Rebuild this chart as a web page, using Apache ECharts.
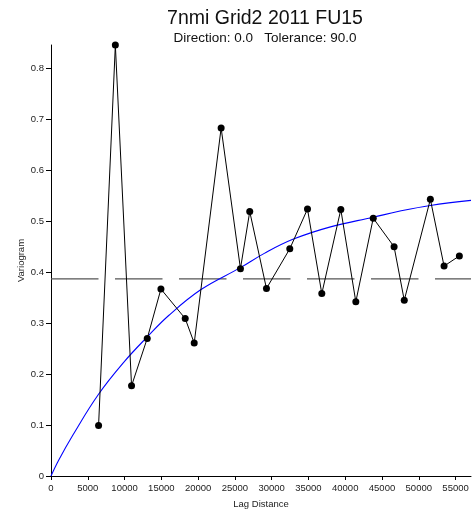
<!DOCTYPE html>
<html>
<head>
<meta charset="utf-8">
<script src="https://cdn.jsdelivr.net/npm/echarts@6/dist/echarts.min.js"></script>
<style>
html,body{margin:0;padding:0;background:#fff;}
#chart{width:473px;height:515px;}
</style>
</head>
<body>
<div id="chart"></div>
<script>
// Experimental variogram points (lag distance, variogram)
var lagX = [6467, 8748, 10951, 13084, 14946, 18247, 19470, 23129, 25755, 27020, 29293,
            32463, 34871, 36816, 39401, 41442, 43810, 46644, 48027, 51576, 53438, 55516];
var gammaY = [0.099, 0.846, 0.177, 0.270, 0.367, 0.309, 0.261, 0.683, 0.407, 0.519, 0.368,
              0.446, 0.524, 0.358, 0.523, 0.342, 0.506, 0.450, 0.345, 0.543, 0.412, 0.432];
// Model curve
var modelX = [0, 1040, 3000, 6440, 10000, 13084, 16000, 20396, 25755, 29000, 32962, 38000, 43810, 47459, 51576, 57100];
var modelY = [0, 0.031, 0.081, 0.160, 0.225, 0.273, 0.315, 0.366, 0.409, 0.437, 0.465, 0.489, 0.508, 0.520, 0.531, 0.541];
// Sill (dashed reference line)
var sillValue = 0.387;
var xMax = 57100;
var yMax = 0.846;
var xTicks = [0, 5000, 10000, 15000, 20000, 25000, 30000, 35000, 40000, 45000, 50000, 55000];
var yTicks = [0, 0.1, 0.2, 0.3, 0.4, 0.5, 0.6, 0.7, 0.8];
var titleText = '7nmi Grid2 2011 FU15';
var subText = 'Direction: 0.0   Tolerance: 90.0';

var FONT = 'Liberation Sans, Arial, sans-serif';
var pts = lagX.map(function (x, i) { return [x, gammaY[i]]; });
var model = modelX.map(function (x, i) { return [x, modelY[i]]; });

var chart = echarts.init(document.getElementById('chart'), null, {renderer: 'canvas'});
chart.setOption({
  animation: false,
  backgroundColor: '#fff',
  title: [
    {text: titleText, left: 260, top: 4, textAlign: 'center',
     textStyle: {fontFamily: FONT, fontSize: 19.5, fontWeight: 'normal', color: '#111'}},
    {text: subText, left: 260, top: 26, textAlign: 'center',
     textStyle: {fontFamily: FONT, fontSize: 13.5, fontWeight: 'normal', color: '#111'}}
  ],
  grid: {left: 51, right: 2, top: 45, bottom: 39, containLabel: false},
  xAxis: {
    type: 'value', min: 0, max: xMax, interval: 5000,
    name: 'Lag Distance', nameLocation: 'middle', nameGap: 23, nameMoveOverlap: false,
    nameTextStyle: {fontFamily: FONT, fontSize: 9.5, color: '#222'},
    axisLine: {show: true, lineStyle: {color: '#000', width: 1}},
    axisTick: {show: true, length: 4, lineStyle: {color: '#000'}, customValues: xTicks},
    axisLabel: {fontFamily: FONT, fontSize: 9.5, color: '#222', margin: 7, customValues: xTicks,
                formatter: function (v) { return String(v); }},
    splitLine: {show: false}
  },
  yAxis: {
    type: 'value', min: 0, max: yMax, interval: 0.1,
    name: 'Variogram', nameLocation: 'middle', nameGap: 25, nameRotate: 90, nameMoveOverlap: false,
    nameTextStyle: {fontFamily: FONT, fontSize: 9.5, color: '#222'},
    axisLine: {show: true, lineStyle: {color: '#000', width: 1}},
    axisTick: {show: true, length: 5, lineStyle: {color: '#000'}, customValues: yTicks},
    axisLabel: {fontFamily: FONT, fontSize: 9.5, color: '#222', margin: 7, customValues: yTicks,
                formatter: function (v) { return v === 0 ? '0' : v.toFixed(1); }},
    splitLine: {show: false}
  },
  series: [
    {
      type: 'line', data: [[0, sillValue], [xMax, sillValue]], symbol: 'none', silent: true,
      lineStyle: {color: '#555', width: 1.4, type: [47.5, 16.5]}, z: 1
    },
    {
      type: 'line', data: model, symbol: 'none', smooth: 0.4, silent: true,
      lineStyle: {color: '#0000ff', width: 1.1}, z: 2
    },
    {
      type: 'line', data: pts, symbol: 'circle', symbolSize: 7,
      itemStyle: {color: '#000'}, lineStyle: {color: '#000', width: 1}, z: 3
    }
  ]
});
</script>
</body>
</html>
